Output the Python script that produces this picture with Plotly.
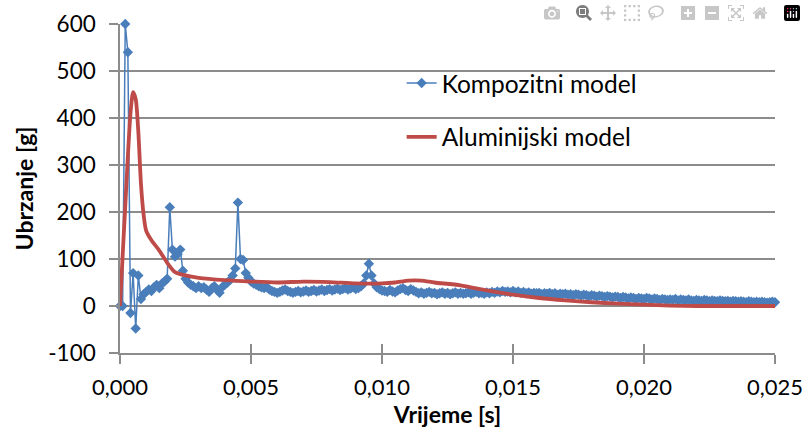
import plotly.graph_objects as go

# ---------------- data ----------------
# Kompozitni model: sampled every 0.0001 s from 0 to 0.025 s
komp_t_step = 0.0001
komp_v = [
    0, 0, 600, 540, -15, 70, -48, 65, 15, 25,
    30, 35, 32, 40, 45, 38, 48, 52, 58, 210,
    120, 105, 110, 120, 75, 58, 50, 45, 42, 38,
    42, 38, 40, 35, 30, 38, 42, 35, 28, 40,
    45, 50, 55, 65, 80, 220, 100, 98, 70, 60,
    52, 48, 45, 42, 40, 38, 40, 35, 32, 30,
    28, 30, 33, 35, 32, 30, 28, 30, 32, 29,
    31, 33, 30, 32, 34, 31, 33, 35, 32, 34,
    36, 33, 35, 37, 34, 36, 38, 35, 37, 40,
    36, 38, 42, 48, 65, 90, 65, 48, 40, 36,
    33, 32, 30, 34, 31, 29, 33, 36, 38, 34,
    32, 36, 33, 30, 27, 29, 26, 28, 30, 27,
    28, 25, 27, 29, 26, 28, 25, 27, 29, 26,
    28, 26, 27, 29, 26, 28, 30, 27, 28, 26,
    29, 27, 30, 28, 31, 29, 32, 30, 31, 29,
    32, 29, 31, 28, 30, 27, 29, 26, 28, 27,
    28, 25, 27, 26, 28, 25, 27, 24, 26, 25,
    26, 24, 25, 23, 25, 24, 22, 24, 23, 21,
    23, 22, 20, 22, 21, 19, 21, 20, 18, 20,
    19, 17, 19, 18, 16, 18, 17, 15, 17, 16,
    15, 17, 16, 14, 16, 15, 13, 15, 14, 13,
    14, 13, 15, 12, 14, 13, 12, 14, 12, 11,
    13, 12, 11, 13, 12, 10, 12, 11, 10, 12,
    11, 10, 11, 9, 11, 10, 9, 10, 9, 8,
    10, 9, 8, 9, 8, 9, 8, 7, 8, 9,
    8,
]
komp_t = [round(i * komp_t_step, 4) for i in range(len(komp_v))]

# Aluminijski model
alu_t = [0, 0.0001, 0.0002, 0.0003, 0.0004, 0.0005, 0.0006, 0.0007, 0.0008,
         0.0009, 0.001, 0.0012, 0.0015, 0.0018, 0.0021, 0.0025, 0.003, 0.004,
         0.005, 0.006, 0.007, 0.008, 0.009, 0.010, 0.0105, 0.011, 0.0115,
         0.012, 0.013, 0.014, 0.015, 0.016, 0.017, 0.018, 0.019, 0.020,
         0.021, 0.022, 0.023, 0.024, 0.025]
alu_v = [0, 106, 212, 318, 410, 455, 440, 370, 260,
         195, 160, 140, 118, 92, 72, 65, 60, 55,
         52, 50, 52, 51, 48, 48, 50, 54, 54,
         50, 44, 33, 24, 17, 12, 8, 5, 3,
         1, 0, 0, 0, 0]

x_tickvals = [0, 0.005, 0.010, 0.015, 0.020, 0.025]
x_ticktext = ["0,000", "0,005", "0,010", "0,015", "0,020", "0,025"]
y_tickvals = [-100, 0, 100, 200, 300, 400, 500, 600]
y_ticktext = ["-100", "0", "100", "200", "300", "400", "500", "600"]

series_names = ["Kompozitni model", "Aluminijski model"]
x_title = "Vrijeme [s]"
y_title = "Ubrzanje [g]"

# ---------------- figure ----------------
BLUE = "#4A7EBB"
RED = "#BE4B48"
GRID = "#8C8C8C"
FONT = "Lato"

fig = go.Figure()
fig.add_trace(go.Scatter(
    x=komp_t, y=komp_v, name=series_names[0], mode="lines+markers",
    line=dict(color=BLUE, width=1.5),
    marker=dict(symbol="diamond", size=8, color=BLUE),
    cliponaxis=False, legendgroup="a",
))
fig.add_trace(go.Scatter(
    x=alu_t, y=alu_v, name=series_names[1], mode="lines",
    line=dict(color=RED, width=3.8, shape="spline", smoothing=0.7),
    cliponaxis=False, legendgroup="b",
))
# empty trace to carry the inner half of the x-axis tick marks
fig.add_trace(go.Scatter(x=[], y=[], xaxis="x2", showlegend=False))

# full window size; the page body margin is removed in post_script
fig.update_layout(
    width=806, height=430,
    margin=dict(l=120, r=31, t=24, b=77),
    paper_bgcolor="white", plot_bgcolor="white",
    font=dict(family=FONT, size=22.5, color="#000000"),
    showlegend=True,
    legend=dict(
        x=0.43, y=0.889, xanchor="left", yanchor="top",
        bgcolor="rgba(0,0,0,0)", font=dict(size=24.5, family=FONT),
        tracegroupgap=19, traceorder="grouped",
    ),
    xaxis=dict(
        range=[0, 0.025], showgrid=False, zeroline=False, automargin=False,
        showline=True, linecolor=GRID, linewidth=1.5,
        ticks="outside", ticklen=9, tickwidth=1.5, tickcolor=GRID,
        tickvals=x_tickvals, ticktext=x_ticktext,
        title=dict(text=x_title, font=dict(size=23, family=FONT, weight="bold"), standoff=5),
        tickfont=dict(size=22, family=FONT),
        ticklabelstandoff=5,
    ),
    xaxis2=dict(
        range=[0, 0.025], overlaying="x", anchor="y", side="bottom",
        showgrid=False, zeroline=False, showline=False, automargin=False,
        ticks="inside", ticklen=9, tickwidth=1.5, tickcolor=GRID,
        tickvals=x_tickvals, showticklabels=False,
    ),
    yaxis=dict(
        range=[-100, 600], showgrid=True, gridcolor=GRID, gridwidth=1.5,
        zeroline=False, showline=True, linecolor=GRID, linewidth=1.5,
        automargin=False,
        ticks="outside", ticklen=9, tickwidth=1.5, tickcolor=GRID,
        tickvals=y_tickvals, ticktext=y_ticktext,
        title=dict(text=y_title, font=dict(size=23, family=FONT, weight="bold"), standoff=8),
        tickfont=dict(size=22.5, family=FONT),
        ticklabelstandoff=9,
    ),
)

fig.write_html(
    "out.html",
    post_script="document.body.style.margin='0';"
                "document.documentElement.style.overflow='hidden';"
                "document.body.style.overflow='hidden';",
)
